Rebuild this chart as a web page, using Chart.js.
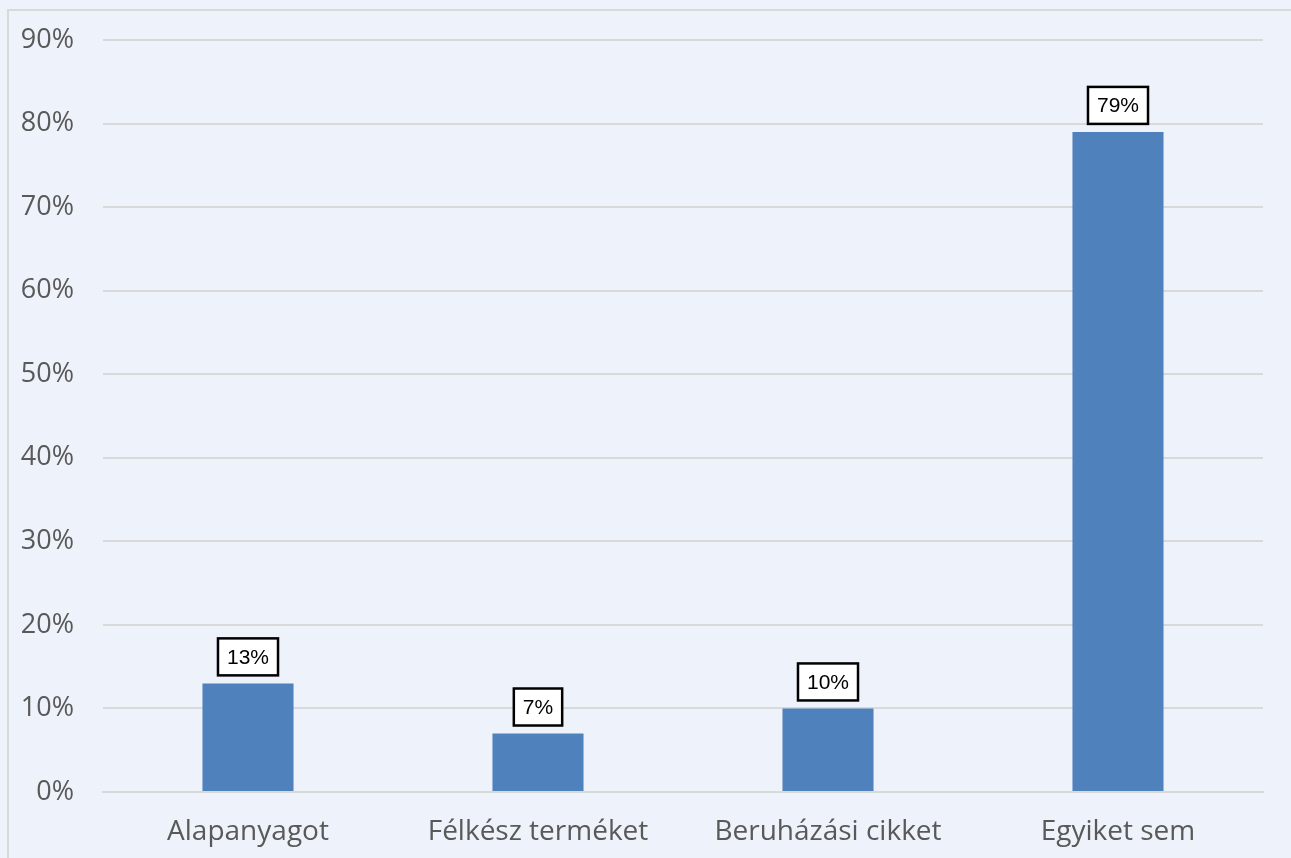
<!DOCTYPE html>
<html lang="hu">
<head>
    <meta charset="UTF-8">
    <title>Kategóriák</title>
    <script src="https://cdn.jsdelivr.net/npm/chart.js"></script>
    <style>
        body {
            margin: 0;
            width: 1291px;
            height: 858px;
            overflow: hidden;
            background-color: #EEF3FB;
            font-family: "Open Sans", sans-serif;
        }
        .frame {
            position: absolute;
            left: 7px;
            top: 9px;
            width: 1300px;
            height: 870px;
            border: 2px solid #D9D9D9;
        }
        .chart-container {
            position: absolute;
            left: 0;
            top: 0;
            width: 1291px;
            height: 858px;
        }
    </style>
</head>
<body>
<div class="frame"></div>
<div class="chart-container">
    <canvas id="barChart"></canvas>
</div>

<script>
    const categories = ['Alapanyagot', 'Félkész terméket', 'Beruházási cikket', 'Egyiket sem'];
    const shares = [13, 7, 10, 79];
    const yTicks = [0, 10, 20, 30, 40, 50, 60, 70, 80, 90];

    // boxed value labels above each bar
    const boxLabels = {
        id: 'boxLabels',
        afterDatasetsDraw(chart) {
            const ctx = chart.ctx;
            const meta = chart.getDatasetMeta(0);
            ctx.save();
            ctx.font = '21px "Liberation Sans", Arial, sans-serif';
            ctx.textAlign = 'center';
            ctx.textBaseline = 'middle';
            meta.data.forEach((bar, i) => {
                const text = shares[i] + '%';
                const w = ctx.measureText(text).width + 18;
                const h = 37;
                const x = bar.x - w / 2;
                const y = bar.y - 8 - h;
                ctx.fillStyle = '#FFFFFF';
                ctx.fillRect(x, y, w, h);
                ctx.strokeStyle = '#000000';
                ctx.lineWidth = 2.5;
                ctx.strokeRect(x, y, w, h);
                ctx.fillStyle = '#000000';
                ctx.fillText(text, bar.x, y + h / 2 + 1);
            });
            ctx.restore();
        }
    };

    const ctx = document.getElementById('barChart').getContext('2d');
    new Chart(ctx, {
        type: 'bar',
        data: {
            labels: categories,
            datasets: [{
                data: shares,
                backgroundColor: '#4F81BD',
                categoryPercentage: 1,
                barPercentage: 0.314
            }]
        },
        options: {
            responsive: true,
            maintainAspectRatio: false,
            animation: false,
            layout: {
                padding: { top: 40, right: 28, bottom: 0, left: 0 }
            },
            plugins: {
                legend: { display: false },
                tooltip: { enabled: false }
            },
            scales: {
                x: {
                    grid: { display: false, drawTicks: false },
                    border: { display: true, color: '#D9D9D9', width: 2 },
                    ticks: {
                        color: '#595959',
                        padding: 23,
                        font: { family: '"Open Sans", sans-serif', size: 28 }
                    },
                    afterFit(scale) {
                        scale.height = 66;
                    }
                },
                y: {
                    min: 0,
                    max: 90,
                    afterBuildTicks(scale) {
                        scale.ticks = yTicks.map(v => ({ value: v }));
                    },
                    grid: { color: '#D9D9D9', lineWidth: 2, drawTicks: false },
                    border: { display: false },
                    ticks: {
                        color: '#595959',
                        padding: 29,
                        font: { family: '"Open Sans", sans-serif', size: 27 },
                        callback: v => v + '%'
                    },
                    afterFit(scale) {
                        scale.width = 103;
                        scale.paddingTop = 0;
                        scale.paddingBottom = 0;
                    }
                }
            }
        },
        plugins: [boxLabels]
    });
</script>
</body>
</html>
